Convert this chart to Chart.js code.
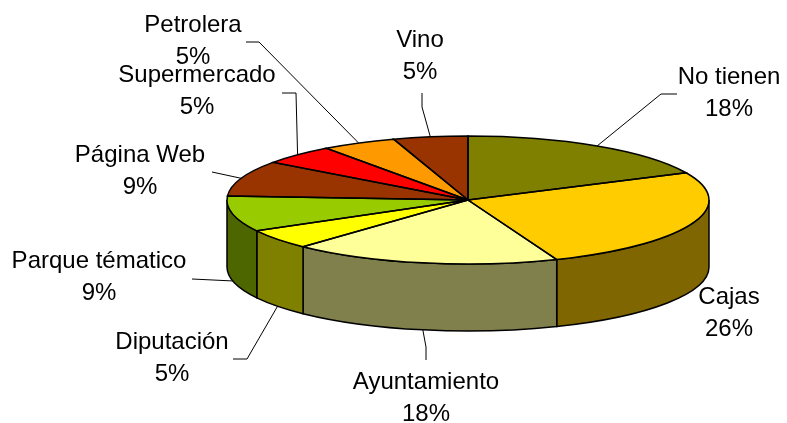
<!DOCTYPE html>
<html>
<head>
<meta charset="utf-8">
<script src="https://cdn.jsdelivr.net/npm/chart.js@4.4.1/dist/chart.umd.min.js"></script>
<style>
  html, body { margin: 0; padding: 0; background: #fff; }
  #wrap { width: 787px; height: 423px; }
</style>
</head>
<body>
<div id="wrap"><canvas id="tarta"></canvas></div>
<script>
const categorias = ['No tienen', 'Cajas', 'Ayuntamiento', 'Diputación', 'Parque tématico', 'Página Web', 'Supermercado', 'Petrolera', 'Vino'];
const porcentajes = [18, 26, 18, 5, 9, 9, 5, 5, 5];

const colores = ['#808000', '#FFCC00', '#FFFF99', '#FFFF00', '#99CC00', '#993300', '#FF0000', '#FF9900', '#993300'];
const coloresLado = ['#404000', '#806600', '#80804D', '#808000', '#4D6600', '#4D1A00', '#800000', '#804D00', '#4D1A00'];

// elipse en pantalla y grosor de la tarta
const RX = 241, RY = 64, PROF = 67;

// posicion de cada etiqueta (centro, linea base) y codos de la linea guia
const etiquetas = [
    { x: 729, y: 84,  guia: [[677, 94], [661, 94]] },
    { x: 729, y: 304, guia: null },
    { x: 426, y: 389, guia: [[426, 360], [426, 347]] },
    { x: 172, y: 349, guia: [[233, 359], [247, 359]] },
    { x: 99,  y: 268, guia: [[192, 279]] },
    { x: 140, y: 162, guia: [[212, 172]] },
    { x: 197, y: 82,  guia: [[282, 93], [296, 93]] },
    { x: 193, y: 32,  guia: [[246, 42], [259, 42]] },
    { x: 420, y: 47,  guia: [[422, 93], [422, 107]] }
];

const tarta3d = {
    id: 'tarta3d',
    beforeDatasetsDraw(chart) {
        const ctx = chart.ctx;
        const arcs = chart.getDatasetMeta(0).data;
        const cx = arcs[0].x, cy = arcs[0].y, r = arcs[0].outerRadius;
        // lados (solo la mitad delantera)
        arcs.forEach((arc, i) => {
            const s = Math.max(arc.startAngle, 0);
            const e = Math.min(arc.endAngle, Math.PI);
            if (e <= s) return;
            ctx.beginPath();
            ctx.ellipse(cx, cy, RX, RY, 0, s, e);
            ctx.ellipse(cx, cy + PROF, RX, RY, 0, e, s, true);
            ctx.closePath();
            ctx.fillStyle = coloresLado[i];
            ctx.fill();
            ctx.lineWidth = 1.5;
            ctx.strokeStyle = '#000';
            ctx.stroke();
        });
        ctx.save();
        ctx.translate(cx, cy);
        ctx.scale(RX / r, RY / r);
        ctx.translate(-cx, -cy);
    },
    afterDatasetsDraw(chart) {
        const ctx = chart.ctx;
        ctx.restore();
        const arcs = chart.getDatasetMeta(0).data;
        const cx = arcs[0].x, cy = arcs[0].y;
        ctx.save();
        ctx.lineWidth = 1.5;
        ctx.strokeStyle = '#000';
        arcs.forEach(arc => {
            ctx.beginPath();
            ctx.moveTo(cx, cy);
            ctx.ellipse(cx, cy, RX, RY, 0, arc.startAngle, arc.endAngle);
            ctx.closePath();
            ctx.stroke();
        });

        // lineas guia y etiquetas
        ctx.lineWidth = 1;
        ctx.font = '24px "Liberation Sans", Arial, sans-serif';
        ctx.fillStyle = '#000';
        ctx.textAlign = 'center';
        ctx.textBaseline = 'alphabetic';
        arcs.forEach((arc, i) => {
            const et = etiquetas[i];
            if (et.guia) {
                const m = (arc.startAngle + arc.endAngle) / 2;
                let ax = cx + RX * Math.cos(m);
                let ay = cy + RY * Math.sin(m);
                if (Math.sin(m) > 0) ay += PROF;
                ctx.beginPath();
                ctx.moveTo(et.guia[0][0], et.guia[0][1]);
                for (let k = 1; k < et.guia.length; k++) ctx.lineTo(et.guia[k][0], et.guia[k][1]);
                ctx.lineTo(ax, ay);
                ctx.stroke();
            }
            ctx.fillText(categorias[i], et.x, et.y);
            ctx.fillText(porcentajes[i] + '%', et.x, et.y + 32);
        });
        ctx.restore();
    }
};

new Chart(document.getElementById('tarta'), {
    type: 'pie',
    data: {
        labels: categorias,
        datasets: [{
            data: porcentajes,
            backgroundColor: colores,
            borderWidth: 0,
            clip: false
        }]
    },
    options: {
        responsive: true,
        maintainAspectRatio: false,
        animation: false,
        events: [],
        layout: { padding: { left: 149, right: 0, top: 0, bottom: 23 } },
        plugins: {
            legend: { display: false },
            tooltip: { enabled: false }
        }
    },
    plugins: [tarta3d]
});
</script>
</body>
</html>
